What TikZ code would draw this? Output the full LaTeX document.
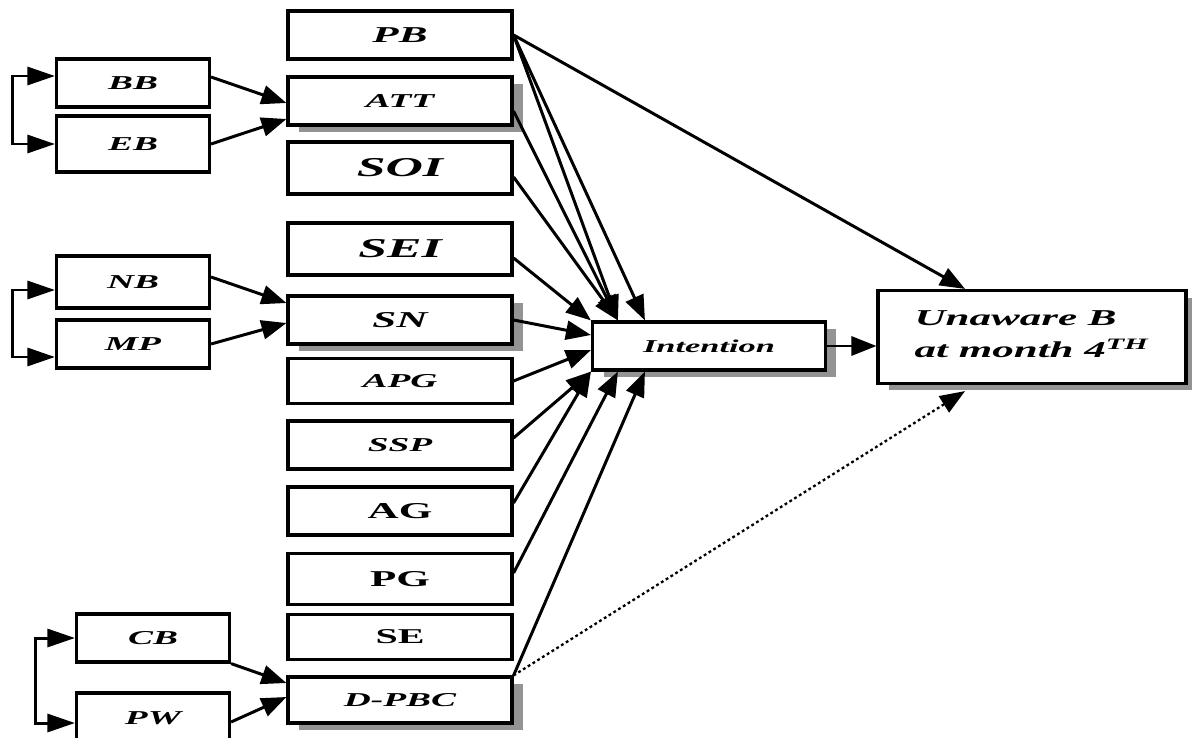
\documentclass[tikz,border=0pt]{standalone}
\usepackage{fontspec}
\setmainfont{Liberation Serif}
\usepackage{graphicx}
\usetikzlibrary{arrows.meta,shadows}

\newcommand{\wlabel}[2]{\fontsize{#1}{#1}\selectfont\scalebox{1.9}[1]{#2}}

\tikzstyle{plain box}=[
        draw,
        line width = 1.8pt,
        fill = white,
        inner sep = 0pt,
        font = \bfseries\itshape
    ]
\tikzstyle{mid box}=[plain box, minimum width = 4.48cm, minimum height = 0.96cm]
\tikzstyle{side box}=[plain box, minimum width = 3.06cm, minimum height = 0.96cm]
\tikzstyle{shaded}=[drop shadow = {shadow xshift = 0.22cm, shadow yshift = -0.14cm, fill = gray!85, opacity = 1}]
\tikzstyle{link}=[-{Triangle[length = 0.5cm, width = 0.38cm]}, line width = 1.7pt]
\tikzstyle{both links}=[{Triangle[length = 0.55cm, width = 0.36cm]}-{Triangle[length = 0.55cm, width = 0.36cm]}, line width = 1.7pt]

\begin{document}
\begin{tikzpicture}[x = 0.02cm, y = -0.02cm]
        \useasboundingbox (0,0) rectangle (1192,737);

        % middle column
        \node[mid box] (PB) at (400,35) {\wlabel{12.9}{PB}};
        \node[mid box, shaded] (ATT) at (400,101) {\wlabel{11.2}{ATT}};
        \node[mid box, minimum height = 1.04cm] (SOI) at (400,168) {\wlabel{15.5}{SOI}};
        \node[mid box, minimum height = 1.04cm] (SEI) at (400,249) {\wlabel{15.5}{SEI}};
        \node[mid box, shaded] (SN) at (400,320) {\wlabel{12.9}{SN}};
        \node[mid box, minimum height = 0.9cm] (APG) at (400,381) {\wlabel{11.2}{APG}};
        \node[mid box] (SSP) at (400,445) {\wlabel{11.2}{SSP}};
        \node[mid box] (AG) at (400,511) {\wlabel{12.9}{\upshape AG}};
        \node[mid box, minimum height = 1.02cm] (PG) at (400,579) {\wlabel{12.9}{\upshape PG}};
        \node[mid box, minimum height = 0.9cm] (SE) at (400,637) {\wlabel{12}{\upshape SE}};
        \node[mid box, shaded, minimum height = 0.92cm] (DPBC) at (400,700) {\wlabel{11.2}{D-PBC}};

        % left column
        \node[side box] (BB) at (133,83) {\wlabel{11.2}{BB}};
        \node[side box, minimum height = 1.12cm] (EB) at (133,144) {\wlabel{11.2}{EB}};
        \node[side box, minimum height = 1.04cm] (NB) at (133,282) {\wlabel{11.2}{NB}};
        \node[side box] (MP) at (133,344) {\wlabel{11.2}{MP}};
        \node[side box] (CB) at (153,638) {\wlabel{11.2}{CB}};
        \node[side box, minimum height = 1cm] (PW) at (153,718) {\wlabel{11.2}{PW}};

        % right side
        \node[plain box, shaded, minimum width = 4.66cm, minimum height = 0.96cm] (Intention) at (709,346) {\wlabel{10.3}{Intention}};
        \node[plain box, shaded, minimum width = 6.16cm, minimum height = 1.86cm] (Unaware) at (1032,337)
            {\wlabel{12.9}{\begin{tabular}{@{}l@{}}Unaware B\\[3.6pt]at month 4\textsuperscript{TH}\end{tabular}}};

        % brackets
        \draw[both links] ([yshift = 1.4mm]BB.west) -- ++(-42,0) |- (EB.west);
        \draw[both links] ([yshift = -1.6mm]NB.west) -- ++(-42,0) |- ([yshift = -2.6mm]MP.west);
        \draw[both links] (CB.west) -- ++(-39,0) |- ([yshift = -1mm]PW.west);

        \draw[link] ([yshift = 1.2mm]BB.east) -- ([yshift = -0.4mm]ATT.west);
        \draw[link] (EB.east) -- ([yshift = -3.6mm]ATT.west);
        \draw[link] ([yshift = 1mm]NB.east) -- ([yshift = 3.4mm]SN.west);
        \draw[link] (MP.east) -- ([yshift = -0.6mm]SN.west);
        \draw[link] (CB.south east) -- ([yshift = 3.4mm]DPBC.west);
        \draw[link] ([yshift = -0.8mm]PW.east) -- ([yshift = 0.6mm]DPBC.west);

        \draw[link] (PB.east) -- ([xshift = 5.4mm]Intention.north west);
        \draw[link] (PB.east) -- ([xshift = 10.8mm]Intention.north west);
        \draw[link] ([yshift = -2mm]ATT.east) -- ([xshift = 5.4mm]Intention.north west);
        \draw[link] ([yshift = -1.8mm]SOI.east) -- ([xshift = 5.4mm]Intention.north west);
        \draw[link] ([yshift = -1.8mm]SEI.east) -- (Intention.north west);
        \draw[link] (SN.east) -- ([yshift = 2.2mm]Intention.west);
        \draw[link] (APG.east) -- ([yshift = -0.8mm]Intention.west);
        \draw[link] ([yshift = 1.4mm]SSP.east) -- (Intention.south west);
        \draw[link] ([yshift = 1.6mm]AG.east) -- (Intention.south west);
        \draw[link] ([yshift = 1.2mm]PG.east) -- ([xshift = 5.4mm]Intention.south west);
        \draw[link] (DPBC.north east) -- ([xshift = 10.8mm]Intention.south west);

        \draw[link] (Intention.east) -- (Intention.east -| Unaware.west);
        \draw[link] (PB.east) -- ([xshift = -13.4mm]Unaware.north);
        \draw[link, line width = 1.3pt, dash pattern = on 1.6pt off 1.6pt] (DPBC.north east) -- ([xshift = -13.4mm, yshift = -1.2mm]Unaware.south);
    \end{tikzpicture}
\end{document}
